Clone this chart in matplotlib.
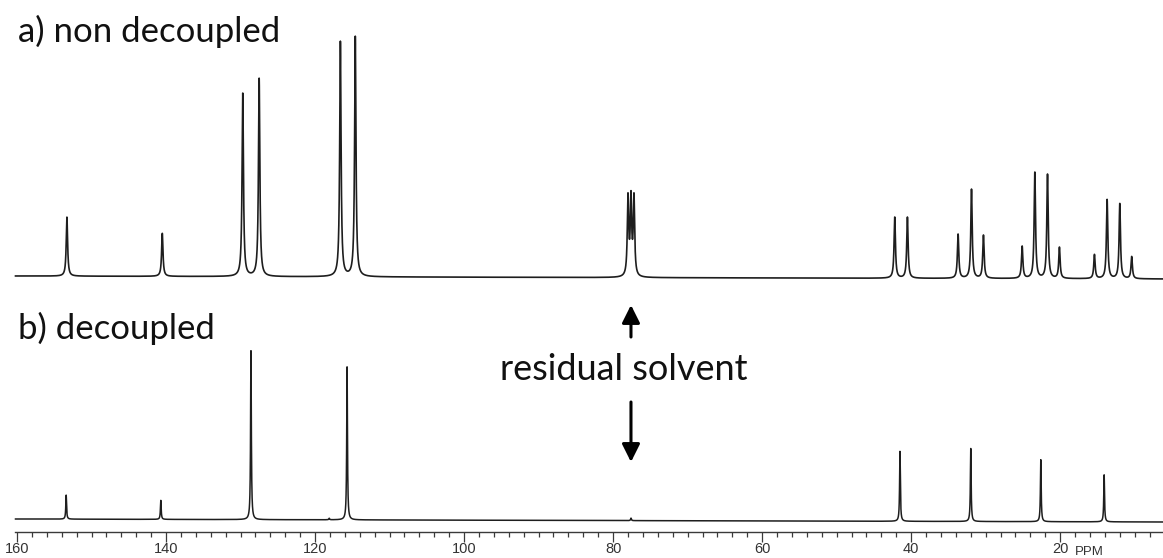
import matplotlib

matplotlib.use("Agg")
import matplotlib.pyplot as plt
import numpy as np

# 13C spectrum, peak list (ppm, height in px)
coupled_ppm = [153.3, 140.5, 129.7, 127.5, 116.6, 114.6,
               78.0, 77.6, 77.2,
               42.2, 40.5, 33.7, 31.9, 30.3,
               25.1, 23.4, 21.7, 20.1, 15.4, 13.7, 12.0, 10.4]
coupled_int = [59, 43, 183, 198, 235, 240,
               78, 76, 78,
               61, 61, 44, 89, 43,
               32, 106, 104, 31, 24, 79, 75, 22]

decoupled_ppm = [153.4, 140.7, 128.6, 118.1, 115.7, 77.6, 41.5, 32.0, 22.6, 14.1]
decoupled_int = [24, 19, 169, 1.5, 153, 2.5, 70, 73, 62, 47]

major_ticks = [160, 140, 120, 100, 80, 60, 40, 20]
minor_ticks = list(range(8, 162, 2))

W, H = 1163, 558
PPM_LEFT, PPM_RIGHT = 162.28, 6.2


def lorentz_sum(ppm, centers, heights, hwhm):
    y = np.zeros_like(ppm)
    for c, h in zip(centers, heights):
        y += h * hwhm**2 / ((ppm - c) ** 2 + hwhm**2)
    return y


fig = plt.figure(figsize=(W / 100, H / 100), dpi=100)
# axes bottom edge sits on the ppm scale line
ax = fig.add_axes([0, (H - 532) / H, 1, 532 / H])
ax.set_xlim(PPM_LEFT, PPM_RIGHT)
ax.set_ylim(0, 532)

ppm = np.linspace(160.2, PPM_RIGHT, 40000)

# upper trace (a), baseline tilts slightly toward the high field end
base_a = np.interp(ppm, [PPM_RIGHT, 160.2], [253, 256])
trace_a = base_a + lorentz_sum(ppm, coupled_ppm, coupled_int, 0.11)
ax.plot(ppm, trace_a, color="#1e1e1e", lw=1.2)

# lower trace (b)
base_b = np.interp(ppm, [PPM_RIGHT, 160.2], [10, 13])
trace_b = base_b + lorentz_sum(ppm, decoupled_ppm, decoupled_int, 0.06)
ax.plot(ppm, trace_b, color="#1e1e1e", lw=1.1)

# ppm scale
for side in ["top", "left", "right"]:
    ax.spines[side].set_visible(False)
ax.spines["bottom"].set_bounds(160.3, PPM_RIGHT)
ax.spines["bottom"].set_color("#3a3a3a")
ax.spines["bottom"].set_linewidth(1.0)
ax.set_yticks([])
ax.set_xticks(major_ticks)
ax.set_xticks([t for t in minor_ticks if t not in major_ticks], minor=True)
ax.set_xticklabels([str(t) for t in major_ticks])
ax.tick_params(axis="x", which="major", direction="out", length=7, width=0.9,
               color="#3a3a3a", pad=0.5, labelsize=10.5, labelcolor="#333333")
ax.tick_params(axis="x", which="minor", direction="out", length=3.6, width=0.9,
               color="#3a3a3a")
for lab in ax.get_xticklabels():
    lab.set_fontfamily("Liberation Sans")
fig.text(1075 / W, 1 - 555 / H, "PPM", fontsize=9.5, color="#333333",
         family="Liberation Sans", va="baseline", ha="left")

# panel captions
fig.text(18 / W, 1 - 42 / H, "a) non decoupled", fontsize=25, family="Lato",
         va="baseline", ha="left", color="#111111")
fig.text(18 / W, 1 - 339 / H, "b) decoupled", fontsize=25, family="Lato",
         va="baseline", ha="left", color="#111111")
fig.text(624 / W, 1 - 380 / H, "residual solvent", fontsize=26, family="Lato",
         va="baseline", ha="center", color="#111111")

# arrows pointing at the CDCl3 signal in both traces
arrow = dict(arrowstyle="-|>,head_length=0.4,head_width=0.2", lw=2.2,
             color="black", mutation_scale=27, shrinkA=0, shrinkB=0)
ax.annotate("", xy=(77.6, 532 - 305), xytext=(77.6, 532 - 337), arrowprops=arrow)
ax.annotate("", xy=(77.6, 532 - 462), xytext=(77.6, 532 - 402), arrowprops=arrow)

fig.savefig("out.png", dpi=100)
